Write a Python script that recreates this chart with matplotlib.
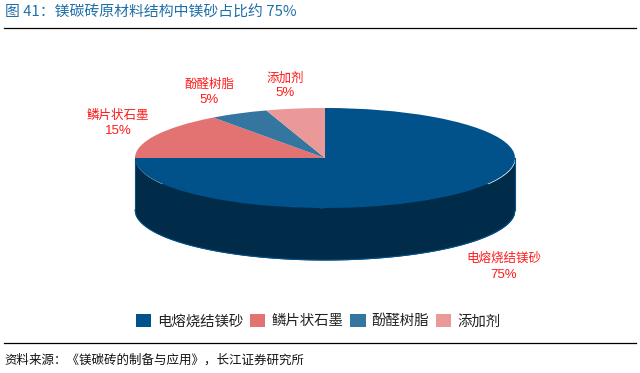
import numpy as np
import matplotlib
matplotlib.use('Agg')
import matplotlib.pyplot as plt
from matplotlib.lines import Line2D

plt.rcParams['font.family'] = ['Noto Sans CJK SC', 'DejaVu Sans']

categories = ['电熔烧结镁砂', '鳞片状石墨', '酚醛树脂', '添加剂']
values = [75, 15, 5, 5]
colors = ['#01528A', '#E37272', '#34769F', '#EA9898']
wall_color = '#002B49'

W, H = 640, 373


def fx(px):
  return px / W


def fy(py):
  return 1 - py / H


fig = plt.figure(figsize=(W / 100, H / 100), dpi=100)

# ellipse of the top face: x 135-515, y 108-208 in pixels
ax = fig.add_axes([fx(135), fy(208), 380 / W, 100 / H])
depth = 1.04

# side wall first, then the top face
ax.pie(values, colors=[wall_color] * 4, startangle=90, counterclock=False,
       center=(0, -depth), wedgeprops={'clip_on': False})
xs = np.linspace(-1, 1, 400)
ax.fill_between(xs, -np.sqrt(1 - xs ** 2), -np.sqrt(1 - xs ** 2) - depth,
                color=wall_color, lw=0, clip_on=False)
ax.plot([-1, -1], [0, -depth], color='#01528A', lw=0.8, clip_on=False)
ax.plot([1, 1], [0, -depth], color='#01528A', lw=0.8, clip_on=False)
ax.plot(xs, -np.sqrt(1 - xs ** 2) - depth, color='#01528A', lw=0.8, clip_on=False)
wedges, _ = ax.pie(values, colors=colors, startangle=90, counterclock=False,
                   wedgeprops={'clip_on': False})
ax.set_aspect('auto')
ax.set_xlim(-1, 1)
ax.set_ylim(-1, 1)

# data labels
label_x = [504, 118, 209, 285]
label_y = [258, 115, 84, 78]
pct_y = [275, 131, 100, 93]
for name, val, lx, ly, py in zip(categories, values, label_x, label_y, pct_y):
  fig.text(fx(lx), fy(ly), name, color='#FF1A1A', fontsize=9, ha='center', va='center')
  fig.text(fx(lx), fy(py), f'{val}%', color='#FF1A1A', fontsize=9.5, ha='center', va='center',
           family=['Liberation Sans', 'DejaVu Sans'])

# legend
fig.legend(wedges, categories, loc='center', bbox_to_anchor=(fx(318), fy(321)), ncol=4,
           frameon=False, fontsize=10.4, handlelength=1.05, handleheight=1.05,
           handletextpad=0.4, columnspacing=0.5, labelcolor='#222222')

# title, rules and source
fig.text(fx(5), fy(12.5), '图 41：镁碳砖原材料结构中镁砂占比约 75%', color='#1F6FA8', fontsize=10.7,
         ha='left', va='center')
fig.add_artist(Line2D([fx(4), fx(636)], [fy(28), fy(28)], color='black', lw=0.9))
fig.add_artist(Line2D([fx(4), fx(636)], [fy(343), fy(343)], color='black', lw=0.9))
fig.text(fx(4), fy(360), '资料来源：《镁碳砖的制备与应用》，长江证券研究所', color='#111111', fontsize=9.0,
         ha='left', va='center')

fig.savefig('out.png', dpi=100)
